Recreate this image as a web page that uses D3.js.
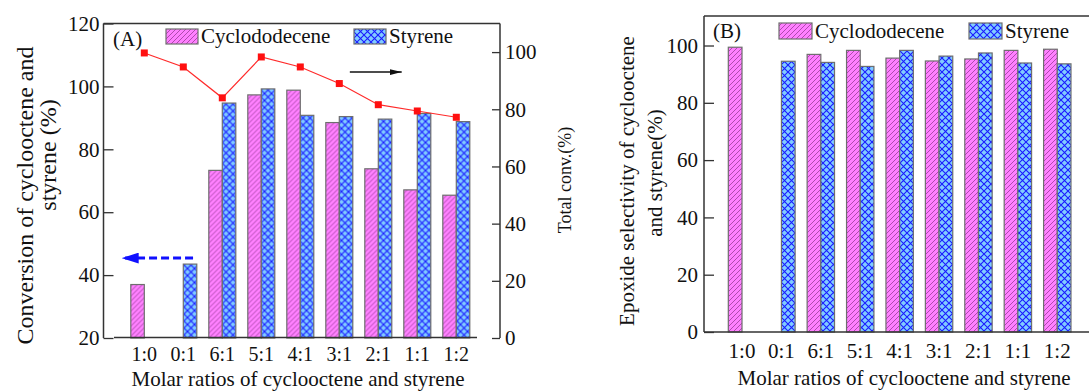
<!DOCTYPE html>
<html>
<head>
<meta charset="utf-8">
<script src="https://cdn.jsdelivr.net/npm/d3@7"></script>
<style>
    body { margin: 0; background: #fff; }
    svg text { font-family: "Liberation Serif", "Times New Roman", serif; fill: #111; }
</style>
</head>
<body>
<div id="chart"></div>
<script>
// categories (molar ratio cyclooctene : styrene)
const categories = ["1:0", "0:1", "6:1", "5:1", "4:1", "3:1", "2:1", "1:1", "1:2"];

// panel A - conversion (%)
const convCyclo   = [37.0, null, 73.3, 97.3, 98.8, 88.5, 73.8, 67.1, 65.4];
const convStyrene = [null, 43.5, 94.7, 99.2, 90.8, 90.4, 89.6, 91.4, 88.8];
const totalConv   = [99.7, 94.8, 84.0, 98.3, 94.8, 89.0, 81.6, 79.4, 77.2];

// panel B - epoxide selectivity (%)
const selCyclo   = [99.4, null, 96.9, 98.3, 95.6, 94.6, 95.3, 98.3, 98.7];
const selStyrene = [null, 94.5, 94.1, 92.7, 98.3, 96.3, 97.4, 93.9, 93.6];

// tick labels
const convTicks  = [20, 40, 60, 80, 100, 120];
const totalTicks = [0, 20, 40, 60, 80, 100];
const selTicks   = [0, 20, 40, 60, 80, 100];

const seriesNames = ["Cyclododecene", "Styrene"];

const serif = '"Liberation Serif", "Times New Roman", serif';

const svg = d3.select("#chart").append("svg")
    .attr("width", 1089)
    .attr("height", 391)
    .attr("font-family", serif);

svg.append("rect").attr("width", 1089).attr("height", 391).attr("fill", "#fff");

// fill patterns
let defs = svg.append("defs");

let pink = defs.append("pattern")
    .attr("id", "hatchPink")
    .attr("patternUnits", "userSpaceOnUse")
    .attr("width", 5).attr("height", 5);
pink.append("rect").attr("width", 5).attr("height", 5).attr("fill", "#ff80ff");
pink.append("path")
    .attr("d", "M-1,1 l2,-2 M0,5 l5,-5 M4,6 l2,-2")
    .attr("stroke", "#9a3c9a").attr("stroke-width", 0.8);

let blue = defs.append("pattern")
    .attr("id", "crossBlue")
    .attr("patternUnits", "userSpaceOnUse")
    .attr("width", 7).attr("height", 7);
blue.append("rect").attr("width", 7).attr("height", 7).attr("fill", "#80ccff");
blue.append("path")
    .attr("d", "M0,0 L7,7 M7,0 L0,7")
    .attr("stroke", "#1a1aff").attr("stroke-width", 1.1);

defs.append("marker")
    .attr("id", "headBlack")
    .attr("markerUnits", "userSpaceOnUse")
    .attr("viewBox", "0 0 12 6")
    .attr("markerWidth", 12).attr("markerHeight", 6)
    .attr("refX", 12).attr("refY", 3)
    .attr("orient", "auto")
    .append("path").attr("d", "M0,0 L12,3 L0,6 Z").attr("fill", "#111");

defs.append("marker")
    .attr("id", "headBlue")
    .attr("markerUnits", "userSpaceOnUse")
    .attr("viewBox", "0 0 17 11")
    .attr("markerWidth", 17).attr("markerHeight", 11)
    .attr("refX", 17).attr("refY", 5.5)
    .attr("orient", "auto")
    .append("path").attr("d", "M0,0 L17,5.5 L0,11 Z").attr("fill", "#1010ff");

const fills = ["url(#hatchPink)", "url(#crossBlue)"];
const frameColor = "#333";

function styleAxis(g, size) {
    g.attr("font-family", serif);
    g.select(".domain").remove();
    g.selectAll(".tick line").attr("stroke", frameColor).attr("stroke-width", 1.3);
    g.selectAll(".tick text").attr("font-size", size).attr("font-family", serif).attr("fill", "#111");
}

function drawBars(g, x, y, base, series) {
    series.forEach((vals, s) => {
        let data = vals.map((v, i) => ({ cat: categories[i], v: v })).filter(d => d.v !== null);
        g.selectAll(".bar-" + s)
            .data(data)
            .enter().append("rect")
            .attr("class", "bar-" + s)
            .attr("x", d => x(d.cat) + s * x.bandwidth() / 2)
            .attr("width", x.bandwidth() / 2)
            .attr("y", d => y(d.v))
            .attr("height", d => y(base) - y(d.v))
            .attr("fill", fills[s])
            .attr("stroke", "#6e6e6e")
            .attr("stroke-width", 1.2);
    });
}

function drawLegend(g, items) {
    items.forEach((it, s) => {
        g.append("rect")
            .attr("x", it.x).attr("y", it.y)
            .attr("width", it.w).attr("height", it.h)
            .attr("fill", fills[s])
            .attr("stroke", "#6e6e6e").attr("stroke-width", 1.2);
        g.append("text")
            .attr("x", it.x + it.w + 3).attr("y", it.y + it.h - 1)
            .attr("font-size", 21)
            .attr("font-family", serif)
            .text(seriesNames[s]);
    });
}

function rotText(cx, cy, size, str) {
    svg.append("text")
        .attr("transform", "translate(" + cx + "," + cy + ") rotate(-90)")
        .attr("text-anchor", "middle")
        .attr("dy", "0.35em")
        .attr("font-size", size)
        .attr("font-family", serif)
        .text(str);
}

// ---------------- Panel A ----------------
{
    let w = 396.5, h = 314.5;
    let g = svg.append("g").attr("transform", "translate(103.5,23.5)");

    let x = d3.scaleBand().domain(categories).range([21.3, 372.3])
        .paddingInner(0.308).paddingOuter(0.154);
    let y = d3.scaleLinear().domain([20, 120]).range([h, 0]);
    let yR = d3.scaleLinear().domain([0, 110]).range([h, 0]);
    let xc = i => x(categories[0]) + x.bandwidth() / 2 + i * x.step();

    drawBars(g, x, y, 20, [convCyclo, convStyrene]);

    // frame
    g.append("line").attr("x1", 0).attr("x2", 0).attr("y1", 0).attr("y2", h)
        .attr("stroke", frameColor).attr("stroke-width", 1.5);
    g.append("line").attr("x1", w).attr("x2", w).attr("y1", 0).attr("y2", h)
        .attr("stroke", frameColor).attr("stroke-width", 1.5);
    g.append("line").attr("x1", 0).attr("x2", w).attr("y1", 0).attr("y2", 0)
        .attr("stroke", frameColor).attr("stroke-width", 1.5);
    g.append("line").attr("x1", 10.5).attr("x2", 373.5).attr("y1", h - 0.5).attr("y2", h - 0.5)
        .attr("stroke", frameColor).attr("stroke-width", 1.5);

    g.append("g").call(d3.axisLeft(y).tickValues(convTicks).tickSize(-10).tickPadding(4))
        .call(a => styleAxis(a, 21));
    g.append("g").attr("transform", "translate(" + w + ",0)")
        .call(d3.axisRight(yR).tickValues(totalTicks).tickSize(-8).tickPadding(5))
        .call(a => styleAxis(a, 21));
    g.append("g").attr("transform", "translate(0," + h + ")")
        .call(d3.axisBottom(x).tickSize(0).tickPadding(9))
        .call(a => styleAxis(a, 20));

    // total conversion line
    let line = d3.line().x((d, i) => xc(i)).y(d => yR(d));
    g.append("path").datum(totalConv)
        .attr("d", line)
        .attr("fill", "none")
        .attr("stroke", "#ff2a2a").attr("stroke-width", 1.2);
    g.selectAll(".pt").data(totalConv).enter().append("rect")
        .attr("class", "pt")
        .attr("x", (d, i) => xc(i) - 3.5).attr("y", d => yR(d) - 3.5)
        .attr("width", 7).attr("height", 7)
        .attr("fill", "#ff1010");

    // arrows
    g.append("line")
        .attr("x1", xc(5.27)).attr("x2", xc(6.6))
        .attr("y1", yR(93)).attr("y2", yR(93))
        .attr("stroke", "#111").attr("stroke-width", 1.5)
        .attr("marker-end", "url(#headBlack)");
    g.append("line")
        .attr("x1", xc(1.25)).attr("x2", xc(-0.58))
        .attr("y1", y(45.4)).attr("y2", y(45.4))
        .attr("stroke", "#1010ff").attr("stroke-width", 3)
        .attr("stroke-dasharray", "8,4")
        .attr("marker-end", "url(#headBlue)");

    g.append("text").attr("x", 9.5).attr("y", 22.5)
        .attr("font-size", 21).attr("font-family", serif).text("(A)");

    drawLegend(svg, [
        { x: 166, y: 29, w: 32, h: 15 },
        { x: 354, y: 29, w: 32, h: 15 }
    ]);

    svg.append("text").attr("x", 298).attr("y", 386)
        .attr("text-anchor", "middle").attr("font-size", 21).attr("font-family", serif)
        .text("Molar ratios of cyclooctene and styrene");
    rotText(25, 195.5, 24, "Conversion of cyclooctene and");
    rotText(48, 155, 24, "styrene (%)");
    rotText(565, 180, 18, "Total conv.(%)");
}

// ---------------- Panel B ----------------
{
    let w = 400, h = 316;
    let g = svg.append("g").attr("transform", "translate(704,16)");

    let x = d3.scaleBand().domain(categories).range([18.3, 373])
        .paddingInner(0.305).paddingOuter(0.1525);
    let y = d3.scaleLinear().domain([0, 110.3]).range([h, 0]);

    drawBars(g, x, y, 0, [selCyclo, selStyrene]);

    g.append("line").attr("x1", 0).attr("x2", 0).attr("y1", 0).attr("y2", h)
        .attr("stroke", frameColor).attr("stroke-width", 1.5);
    g.append("line").attr("x1", 0).attr("x2", w).attr("y1", 0).attr("y2", 0)
        .attr("stroke", frameColor).attr("stroke-width", 1.5);
    g.append("line").attr("x1", 0).attr("x2", w).attr("y1", h).attr("y2", h)
        .attr("stroke", frameColor).attr("stroke-width", 1.5);

    g.append("g").call(d3.axisLeft(y).tickValues(selTicks).tickSize(-10).tickPadding(6))
        .call(a => styleAxis(a, 21));
    g.append("g").attr("transform", "translate(0," + h + ")")
        .call(d3.axisBottom(x).tickSize(0).tickPadding(11))
        .call(a => styleAxis(a, 21));

    g.append("text").attr("x", 9).attr("y", 22)
        .attr("font-size", 21).attr("font-family", serif).text("(B)");

    drawLegend(svg, [
        { x: 779, y: 23, w: 33, h: 16 },
        { x: 969, y: 23, w: 33, h: 16 }
    ]);

    svg.append("text").attr("x", 904).attr("y", 385)
        .attr("text-anchor", "middle").attr("font-size", 21).attr("font-family", serif)
        .text("Molar ratios of cyclooctene and styrene");
    rotText(627, 181, 21, "Epoxide selectivity of cyclooctene");
    rotText(655, 173, 21, "and styrene(%)");
}
</script>
</body>
</html>
